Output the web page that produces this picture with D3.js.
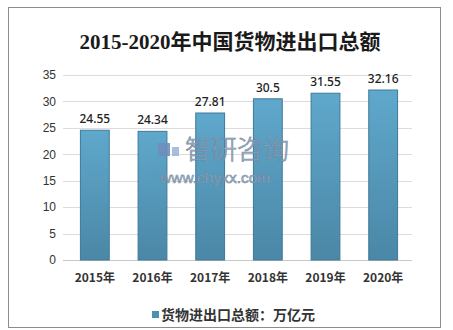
<!DOCTYPE html>
<html>
<head>
<meta charset="utf-8">
<script src="https://cdn.jsdelivr.net/npm/d3@7"></script>
<style>
  body { margin: 0; background: #fff; }
  svg { display: block; }
</style>
</head>
<body>
<div id="chart"></div>
<script>
// data
const years = ["2015年", "2016年", "2017年", "2018年", "2019年", "2020年"];
const totals = [24.55, 24.34, 27.81, 30.5, 31.55, 32.16];
const yTicks = [0, 5, 10, 15, 20, 25, 30, 35];
const seriesName = "货物进出口总额：万亿元";
const titleText = "2015-2020年中国货物进出口总额";

const W = 453, H = 330;
const margin = {top: 75, right: 41, bottom: 70, left: 66};
const width = W - margin.left - margin.right;
const height = H - margin.top - margin.bottom;

const svg = d3.select("#chart").append("svg")
    .attr("width", W)
    .attr("height", H);

const defs = svg.append("defs");
const grad = defs.append("linearGradient")
    .attr("id", "barGrad")
    .attr("x1", 0).attr("y1", 0).attr("x2", 0).attr("y2", 1);
grad.append("stop").attr("offset", "0%").attr("stop-color", "#5fa8cc");
grad.append("stop").attr("offset", "100%").attr("stop-color", "#4b87a6");

// outer frame
svg.append("rect")
    .attr("x", 8.5).attr("y", 7.5)
    .attr("width", 432).attr("height", 320)
    .attr("fill", "#fff")
    .attr("stroke", "#8c8c8c")
    .attr("stroke-width", 1);

svg.append("text")
    .attr("x", 230)
    .attr("y", 49)
    .attr("text-anchor", "middle")
    .attr("font-family", "'Liberation Serif', 'Noto Sans CJK SC', serif")
    .attr("font-size", "21px")
    .attr("font-weight", "bold")
    .attr("fill", "#1a1a1a")
    .text(titleText);

const g = svg.append("g")
    .attr("transform", "translate(" + margin.left + "," + margin.top + ")");

const x = d3.scaleBand()
    .domain(years)
    .range([0, width])
    .paddingInner(0.5)
    .paddingOuter(0.25);

const y = d3.scaleLinear()
    .domain([0, 35])
    .range([height, 0]);

// gridlines
g.selectAll(".grid")
    .data(yTicks)
    .join("line")
    .attr("class", "grid")
    .attr("x1", -3)
    .attr("x2", width)
    .attr("y1", d => Math.round(y(d)) + 0.5)
    .attr("y2", d => Math.round(y(d)) + 0.5)
    .attr("stroke", d => d === 0 ? "#c8c8c8" : "#dcdcdc")
    .attr("stroke-width", 1);

// y axis labels
const yAxis = g.append("g")
    .call(d3.axisLeft(y).tickValues(yTicks).tickSize(0).tickPadding(10));
yAxis.select(".domain").remove();
yAxis.selectAll("text")
    .attr("font-family", "'Liberation Sans', Arial, sans-serif")
    .attr("font-size", "12px")
    .attr("fill", "#333");

// bars
g.selectAll(".bar")
    .data(totals)
    .join("rect")
    .attr("class", "bar")
    .attr("x", (d, i) => x(years[i]))
    .attr("y", d => y(d))
    .attr("width", x.bandwidth())
    .attr("height", d => y(0) - y(d))
    .attr("fill", "url(#barGrad)")
    .attr("stroke", "#3f7a99")
    .attr("stroke-width", 1);

// value labels
g.selectAll(".val")
    .data(totals)
    .join("text")
    .attr("class", "val")
    .attr("x", (d, i) => x(years[i]) + x.bandwidth() / 2)
    .attr("y", d => y(d) - 7)
    .attr("text-anchor", "middle")
    .attr("font-family", "'Noto Sans', 'Liberation Sans', sans-serif")
    .attr("font-size", "12px")
    .attr("font-weight", "500")
    .attr("fill", "#222")
    .text(d => d);

// x axis labels
const xAxis = g.append("g")
    .attr("transform", "translate(0," + height + ")")
    .call(d3.axisBottom(x).tickSize(0).tickPadding(13));
xAxis.select(".domain").remove();
xAxis.selectAll("text")
    .attr("font-family", "'Noto Sans CJK SC', sans-serif")
    .attr("font-size", "12px")
    .attr("font-weight", "bold")
    .attr("fill", "#333");

// watermark
const wm = svg.append("g").attr("opacity", 0.9);
wm.append("rect").attr("x", 158).attr("y", 143).attr("width", 12).attr("height", 13).attr("fill", "#6f8fbb");
wm.append("rect").attr("x", 172).attr("y", 147).attr("width", 7).attr("height", 9).attr("fill", "#9fb8d8");
wm.append("text")
    .attr("x", 185).attr("y", 159)
    .attr("font-family", "'Noto Sans CJK SC', sans-serif")
    .attr("font-size", "26px")
    .attr("font-weight", "300")
    .attr("fill", "#9fb0c4")
    .attr("stroke", "#6f86a0")
    .attr("stroke-width", 0.7)
    .text("智研咨询");
wm.append("text")
    .attr("x", 160).attr("y", 183)
    .attr("font-family", "'Liberation Sans', Arial, sans-serif")
    .attr("font-size", "15.5px")
    .attr("fill", "#9fb0c4")
    .attr("stroke", "#6f86a0")
    .attr("stroke-width", 0.6)
    .text("www.chyxx.com");

// legend
const legend = svg.append("g").attr("transform", "translate(152,315)");
legend.append("rect")
    .attr("x", 0).attr("y", -4)
    .attr("width", 7).attr("height", 7)
    .attr("fill", "#4f8fb0");
legend.append("text")
    .attr("x", 9).attr("y", 0)
    .attr("dy", "0.35em")
    .attr("font-family", "'Noto Sans CJK SC', sans-serif")
    .attr("font-size", "14px")
    .attr("font-weight", "bold")
    .attr("fill", "#333")
    .text(seriesName);
</script>
</body>
</html>
